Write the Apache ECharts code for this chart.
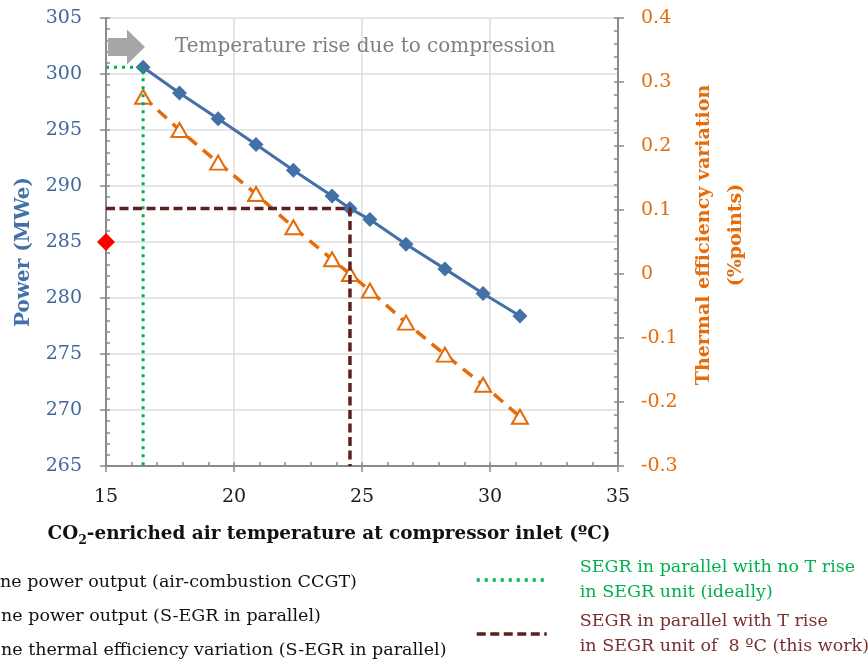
<!DOCTYPE html>
<html>
<head>
<meta charset="utf-8">
<script src="https://cdn.jsdelivr.net/npm/echarts@6/dist/echarts.min.js"></script>
<style>
html,body{margin:0;padding:0;background:#fff;}
#chart{width:868px;height:664px;}
</style>
</head>
<body>
<div id="chart"></div>
<script>
// ---- data ----
const inletTemp = [16.45, 17.87, 19.38, 20.86, 22.32, 23.83, 24.53, 25.31, 26.72, 28.24, 29.73, 31.17];
const powerSEGR = [300.6, 298.3, 296.0, 293.7, 291.4, 289.1, 288.0, 287.0, 284.8, 282.6, 280.4, 278.4];
const effVariation = [0.277, 0.225, 0.174, 0.125, 0.073, 0.023, 0.0, -0.026, -0.076, -0.126, -0.173, -0.223];
const ccgtTemp = [15];
const ccgtPower = [285.0];
const idealX = [15, 16.45, 16.45];
const idealY = [300.6, 300.6, 265];
const thisWorkX = [15, 24.53, 24.53];
const thisWorkY = [288.0, 288.0, 265];
const arrowAt = [15.8, 302.4];

const nameCCGT = 'ne power output (air-combustion CCGT)';
const namePower = 'ne power output (S-EGR in parallel)';
const nameEff = 'ne thermal efficiency variation (S-EGR in parallel)';
const nameIdeal = 'SEGR in parallel with no T rise\nin SEGR unit (ideally)';
const nameWork = 'SEGR in parallel with T rise\nin SEGR unit of  8 ºC (this work)';
const arrowText = 'Temperature rise due to compression';

const xTitleRich = '{b|CO}{s|2}{b|-enriched air temperature at compressor inlet (ºC)}';
const leftTitle = 'Power (MWe)';
const rightTitle = 'Thermal efficiency variation\n(%points)';

// ---- styles ----
const FONT = 'DejaVu Serif';
const BLUE = '#4470A8';
const BLUE_TXT = '#41679B';
const ORANGE = '#E46C0A';
const GREEN = '#00B050';
const BROWN = '#5E1F1F';
const BROWN_TXT = '#7A2F2F';
const AXIS = '#8A8A8A';
const GRID = '#DCDCDC';
const GREEN_DASH = [3, 5];
const BROWN_DASH = [9, 4.5];

const pair = (xs, ys) => xs.map((x, i) => [x, ys[i]]);

const chart = echarts.init(document.getElementById('chart'), null, {renderer: 'canvas'});

const baseX = {type: 'value', min: 15, max: 35, interval: 5};
const baseYL = {type: 'value', min: 265, max: 305, interval: 5};
const baseYR = {type: 'value', min: -0.3, max: 0.4, interval: 0.1};

function leftLegend(name, top) {
  return {
    orient: 'vertical', left: -30, top: top, padding: 0,
    itemWidth: 25, itemHeight: 14,
    textStyle: {fontFamily: FONT, fontSize: 17.5, color: '#111', lineHeight: 22},
    data: [name], selectedMode: false
  };
}
function rightLegend(name, color, lineColor, dash, top) {
  return {
    orient: 'vertical', left: 475, top: top, padding: 0,
    itemWidth: 70, itemHeight: 14,
    itemStyle: {opacity: 0, borderWidth: 0},
    lineStyle: {color: lineColor, width: 3.5, type: dash},
    textStyle: {fontFamily: FONT, fontSize: 17.5, lineHeight: 25, color: color, padding: [0, 0, 0, 28]},
    data: [name], selectedMode: false
  };
}

const option = {
  animation: false,
  backgroundColor: '#fff',
  grid: {left: 106, right: 250, top: 18, bottom: 198, containLabel: false},
  xAxis: [
    Object.assign({}, baseX, {
      position: 'bottom',
      axisLine: {show: true, onZero: false, lineStyle: {color: AXIS, width: 2}},
      axisTick: {show: true, inside: true, length: 4, lineStyle: {color: AXIS, width: 1.5}},
      minorTick: {show: true, splitNumber: 5, length: 4, lineStyle: {color: AXIS, width: 1.5}},
      splitLine: {show: true, lineStyle: {color: GRID, width: 1.5}},
      axisLabel: {color: '#1a1a1a', fontFamily: FONT, fontSize: 19, margin: 22},
      name: xTitleRich,
      nameLocation: 'middle',
      nameGap: 55,
      nameTextStyle: {
        padding: [0, 66, 0, 0],
        rich: {
          b: {fontFamily: FONT, fontWeight: 'bold', fontSize: 18.4, color: '#111', lineHeight: 26, verticalAlign: 'middle'},
          s: {fontFamily: FONT, fontWeight: 'bold', fontSize: 12.5, color: '#111', lineHeight: 26, verticalAlign: 'bottom'}
        }
      }
    }),
    Object.assign({}, baseX, {
      position: 'bottom',
      axisLine: {show: false, onZero: false},
      axisTick: {show: true, inside: false, length: 6, lineStyle: {color: AXIS, width: 1.5}},
      axisLabel: {show: false},
      splitLine: {show: false}
    })
  ],
  yAxis: [
    Object.assign({}, baseYL, {
      position: 'left',
      axisLine: {show: true, onZero: false, lineStyle: {color: AXIS, width: 2}},
      axisTick: {show: true, inside: true, length: 4, lineStyle: {color: AXIS, width: 1.5}},
      minorTick: {show: true, splitNumber: 5, length: 4, lineStyle: {color: AXIS, width: 1.5}},
      splitLine: {show: true, lineStyle: {color: GRID, width: 1.5}},
      axisLabel: {color: BLUE_TXT, fontFamily: FONT, fontSize: 19, margin: 24},
      name: leftTitle,
      nameLocation: 'middle',
      nameRotate: 90,
      nameGap: 72,
      nameTextStyle: {color: BLUE, fontFamily: FONT, fontWeight: 'bold', fontSize: 20, padding: [0, 20, 0, 0]}
    }),
    Object.assign({}, baseYR, {
      position: 'right',
      axisLine: {show: true, onZero: false, lineStyle: {color: AXIS, width: 2}},
      axisTick: {show: true, inside: true, length: 4, lineStyle: {color: AXIS, width: 1.5}},
      minorTick: {show: true, splitNumber: 5, length: 4, lineStyle: {color: AXIS, width: 1.5}},
      splitLine: {show: false},
      axisLabel: {color: ORANGE, fontFamily: FONT, fontSize: 19, margin: 23},
      name: rightTitle,
      nameLocation: 'middle',
      nameRotate: 90,
      nameGap: 66,
      nameTextStyle: {color: ORANGE, fontFamily: FONT, fontWeight: 'bold', fontSize: 19, lineHeight: 32, padding: [0, 0, 0, 14]}
    }),
    Object.assign({}, baseYL, {
      position: 'left',
      axisLine: {show: false, onZero: false},
      axisTick: {show: true, inside: false, length: 6, lineStyle: {color: AXIS, width: 1.5}},
      axisLabel: {show: false},
      splitLine: {show: false}
    }),
    Object.assign({}, baseYR, {
      position: 'right',
      axisLine: {show: false, onZero: false},
      axisTick: {show: true, inside: false, length: 6, lineStyle: {color: AXIS, width: 1.5}},
      axisLabel: {show: false},
      splitLine: {show: false}
    })
  ],
  legend: [
    leftLegend(nameCCGT, 571),
    leftLegend(namePower, 605),
    leftLegend(nameEff, 639),
    rightLegend(nameIdeal, GREEN, GREEN, GREEN_DASH, 555),
    rightLegend(nameWork, BROWN_TXT, BROWN, BROWN_DASH, 609)
  ],
  series: [
    {
      name: nameEff,
      type: 'line',
      xAxisIndex: 0,
      yAxisIndex: 1,
      data: pair(inletTemp, effVariation),
      symbol: 'triangle',
      symbolSize: [16, 14],
      lineStyle: {color: ORANGE, width: 3.5, type: [12, 8]},
      itemStyle: {color: '#fff', borderColor: ORANGE, borderWidth: 2},
      z: 3
    },
    {
      name: namePower,
      type: 'line',
      xAxisIndex: 0,
      yAxisIndex: 0,
      data: pair(inletTemp, powerSEGR),
      symbol: 'diamond',
      symbolSize: 15,
      lineStyle: {color: BLUE, width: 3},
      itemStyle: {color: BLUE},
      z: 4,
      markPoint: {
        symbol: 'path://M0,8.5 L19,8.5 L19,0 L37,17.5 L19,35 L19,26.5 L0,26.5 Z',
        symbolSize: [37, 35],
        itemStyle: {color: '#A6A6A6'},
        label: {
          show: true,
          position: 'right',
          distance: 30,
          formatter: arrowText,
          color: '#808080',
          fontFamily: FONT,
          fontSize: 20
        },
        data: [{coord: arrowAt}]
      }
    },
    {
      name: nameIdeal,
      type: 'line',
      xAxisIndex: 0,
      yAxisIndex: 0,
      data: pair(idealX, idealY),
      symbol: 'none',
      lineStyle: {color: GREEN, width: 3, type: GREEN_DASH},
      itemStyle: {color: GREEN},
      z: 5
    },
    {
      name: nameWork,
      type: 'line',
      xAxisIndex: 0,
      yAxisIndex: 0,
      data: pair(thisWorkX, thisWorkY),
      symbol: 'none',
      lineStyle: {color: BROWN, width: 3.5, type: BROWN_DASH},
      itemStyle: {color: BROWN},
      z: 6
    },
    {
      name: nameCCGT,
      type: 'line',
      xAxisIndex: 0,
      yAxisIndex: 0,
      data: pair(ccgtTemp, ccgtPower),
      symbol: 'diamond',
      symbolSize: 18,
      lineStyle: {width: 0},
      itemStyle: {color: '#FF0000'},
      clip: false,
      z: 7
    }
  ]
};

chart.setOption(option);
</script>
</body>
</html>
